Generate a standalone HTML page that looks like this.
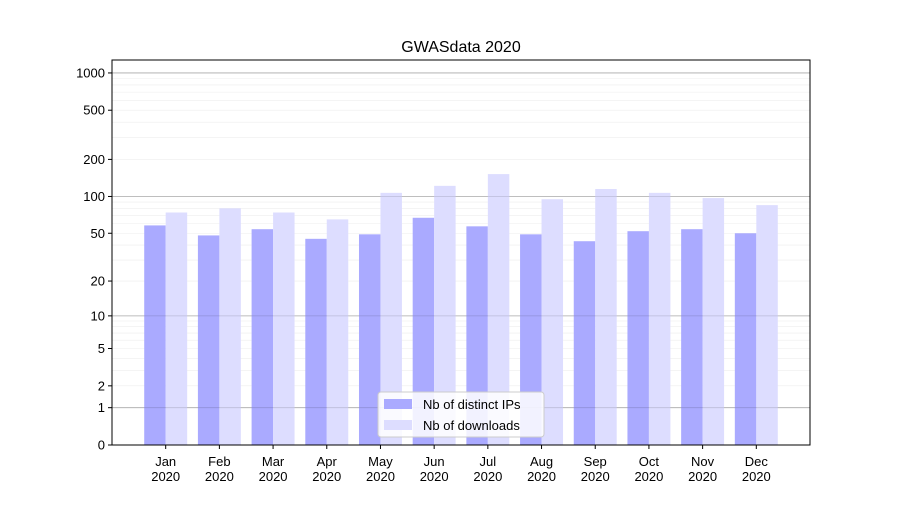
<!DOCTYPE html>
<html><head><meta charset="utf-8"><style>body{margin:0;background:#fff}svg{font-family:"Liberation Sans","DejaVu Sans",sans-serif}</style></head>
<body>
<svg id="c" width="900" height="500" xmlns="http://www.w3.org/2000/svg"></svg>
<script>
const months = ["Jan","Feb","Mar","Apr","May","Jun","Jul","Aug","Sep","Oct","Nov","Dec"];
const distinctIPs = [58,48,54,45,49,67,57,49,43,52,54,50];
const downloads = [74,80,74,65,107,122,152,95,115,107,97,85];
const yTicks = [0,1,2,5,10,20,50,100,200,500,1000];
const NS="http://www.w3.org/2000/svg", svg=document.getElementById('c');
const L=112,R=810,T=60,B=445;
const xs=i=>L+(i+1)*(R-L)/13;
const ys=v=>B-124*Math.log10(1+v);
const unit=(R-L)/13;
function mk(t,a,p){const e=document.createElementNS(NS,t);for(const k in a)e.setAttribute(k,a[k]);(p||svg).appendChild(e);return e;}
let bg=mk('rect',{x:L,y:T,width:R-L,height:B-T,fill:'#fff'});


// minor grid
for(const d of [1,10,100,1000]){for(let m=1;m<10;m++){const v=d*m;if(v>1270)break;const y=ys(v);
 const g=mk('line',{x1:L,x2:R,y1:y,y2:y,stroke:m==1?'#c8c8c8':'#eeeeee','stroke-width':m==1?0.8:0.6});
 
 }}
months.forEach((m,i)=>{
 const c=xs(i),w=unit*0.4;
 const b1=mk('rect',{x:c-w,y:ys(distinctIPs[i]),width:w,height:B-ys(distinctIPs[i]),fill:'#aaaaff'});
 
 
 const b2=mk('rect',{x:c,y:ys(downloads[i]),width:w,height:B-ys(downloads[i]),fill:'#ddddff'});
 
 
 mk('line',{x1:c,x2:c,y1:B,y2:B+4,stroke:'#000'});
 const t=mk('text',{x:c,y:B+21,'text-anchor':'middle','font-size':13});t.textContent=m;
 
 
 const t2=mk('text',{x:c,y:B+36,'text-anchor':'middle','font-size':13});t2.textContent='2020';
 
 
});
// major grid over bars (faint)
for(const v of [1,10,100,1000]){const y=ys(v);mk('line',{x1:L,x2:R,y1:y,y2:y,stroke:'#000','stroke-opacity':0.15,'stroke-width':0.8});}
yTicks.forEach(v=>{const y=ys(v);mk('line',{x1:L-4,x2:L,y1:y,y2:y,stroke:'#000'});
 const t=mk('text',{x:L-7,y:y+4.5,'text-anchor':'end','font-size':13});t.textContent=v;
 
 });
const fr=mk('rect',{x:L,y:T,width:R-L,height:B-T,fill:'none',stroke:'#000','stroke-width':1});


const ti=mk('text',{x:(L+R)/2,y:52,'text-anchor':'middle','font-size':16});ti.textContent='GWASdata 2020';


const lg=mk('g',{});


mk('rect',{x:378,y:392,width:166,height:45,rx:3,fill:'#fff','fill-opacity':0.85,stroke:'#ccc'},lg);
mk('rect',{x:384,y:399,width:28,height:10,fill:'#aaaaff'},lg);
mk('rect',{x:384,y:420,width:28,height:10,fill:'#ddddff'},lg);
const l1=mk('text',{x:423,y:409,'font-size':13},lg);l1.textContent='Nb of distinct IPs';


const l2=mk('text',{x:423,y:430,'font-size':13},lg);l2.textContent='Nb of downloads';


</script>
</body></html>
